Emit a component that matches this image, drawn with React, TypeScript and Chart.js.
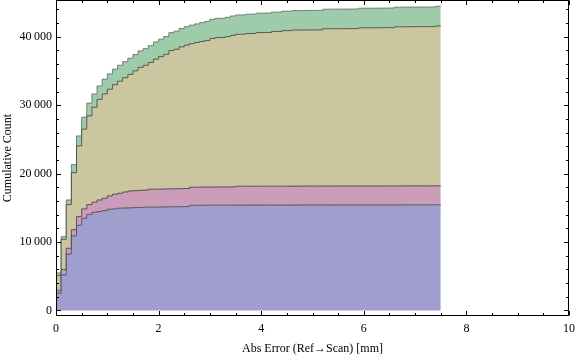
import React, { useEffect, useRef } from "react";
import { Chart, registerables } from "chart.js";

Chart.register(...registerables);

// Cumulative counts per 0.1 mm bin (bin k starts at k * BIN_WIDTH mm)
const BIN_WIDTH = 0.1;
const seriesNames = ["Group 1", "Group 2", "Group 3", "Group 4"];

const seriesBlue = [
  2550, 5200, 8250, 10900, 12450, 13480, 14050, 14350, 14450, 14600,
  14800, 14850, 14950, 14980, 15000, 15030, 15060, 15090, 15100, 15110,
  15120, 15140, 15150, 15160, 15170, 15180, 15370, 15375, 15380, 15385,
  15390, 15390, 15395, 15395, 15400, 15400, 15400, 15400, 15400, 15400,
  15410, 15410, 15410, 15410, 15410, 15410, 15410, 15410, 15420, 15420,
  15420, 15420, 15420, 15420, 15420, 15420, 15420, 15420, 15430, 15430,
  15430, 15430, 15430, 15430, 15430, 15430, 15430, 15430, 15440, 15440,
  15440, 15440, 15440, 15440, 15450,
];

const seriesPink = [
  400, 770, 840, 910, 1270, 1360, 1420, 1470, 1700, 1800,
  1940, 2140, 2180, 2340, 2470, 2475, 2500, 2505, 2620, 2620,
  2622, 2625, 2630, 2632, 2635, 2638, 2640, 2645, 2650, 2650,
  2650, 2653, 2656, 2656, 2657, 2760, 2760, 2760, 2760, 2760,
  2760, 2760, 2760, 2760, 2760, 2765, 2765, 2765, 2765, 2765,
  2765, 2765, 2765, 2765, 2765, 2768, 2768, 2768, 2768, 2768,
  2768, 2768, 2768, 2768, 2768, 2770, 2770, 2770, 2770, 2770,
  2770, 2770, 2770, 2770, 2770,
];

const seriesTan = [
  2150, 4430, 6380, 8340, 10330, 11660, 12970, 13890, 14710, 15250,
  15600, 16010, 16380, 16700, 17040, 17525, 17980, 18245, 18520, 19010,
  19360, 19680, 20210, 20380, 20720, 20960, 20980, 21140, 21290, 21430,
  21710, 21840, 21850, 21980, 22160, 22205, 22215, 22315, 22325, 22455,
  22455, 22465, 22595, 22605, 22725, 22730, 22810, 22815, 22815, 22818,
  22820, 22822, 22995, 22995, 22998, 23000, 23002, 23004, 23005, 23115,
  23118, 23120, 23122, 23135, 23138, 23140, 23260, 23262, 23264, 23266,
  23268, 23270, 23272, 23274, 23370,
];

const seriesGreen = [
  380, 390, 680, 1160, 1460, 1750, 1850, 1940, 1960, 2150,
  2240, 2260, 2340, 2350, 2360, 2370, 2400, 2430, 2470, 2510,
  2550, 2590, 2620, 2650, 2680, 2710, 2710, 2730, 2760, 2790,
  2810, 2815, 2818, 2820, 2822, 2825, 2825, 2825, 2825, 2835,
  2835, 2835, 2835, 2835, 2845, 2845, 2845, 2845, 2850, 2850,
  2850, 2850, 2850, 2860, 2860, 2860, 2860, 2860, 2860, 2865,
  2865, 2865, 2865, 2865, 2865, 2870, 2870, 2870, 2870, 2870,
  2870, 2870, 2870, 2870, 2880,
];

const xTickValues = [0, 2, 4, 6, 8, 10];
const xTickLabels = ["0", "2", "4", "6", "8", "10"];
const yTickValues = [0, 10000, 20000, 30000, 40000];
const yTickLabels = ["0", "10\u2009000", "20\u2009000", "30\u2009000", "40\u2009000"];
const X_MIN = 0;
const X_MAX = 10;
const Y_MIN = -810;
const Y_MAX = 45380;
const X_MINOR_STEP = 0.5;
const Y_MINOR_STEP = 2000;

const fillColors = ["#A09ECC", "#CC9DB9", "#CBC6A0", "#9ECBAA"];
const lineColors = [
  "rgba(70,70,80,0.85)",
  "rgba(70,60,70,0.85)",
  "rgba(60,70,60,0.85)",
  "rgba(100,110,105,0.85)",
];

const toPoints = (values: number[]) => {
  const pts = values.map((v, i) => ({ x: i * BIN_WIDTH, y: v }));
  pts.push({ x: values.length * BIN_WIDTH, y: values[values.length - 1] });
  return pts;
};

const framePlugin = {
  id: "mmaFrame",
  afterDraw(chart: any) {
    const { ctx, chartArea, scales } = chart;
    const xs = scales.x;
    const ys = scales.y;
    const L = Math.round(chartArea.left) + 0.5;
    const R = Math.round(chartArea.right) - 0.5;
    const T = Math.round(chartArea.top) + 0.5;
    const B = Math.round(chartArea.bottom) - 0.5;
    ctx.save();
    ctx.strokeStyle = "#000";
    ctx.lineWidth = 1;
    ctx.strokeRect(L, T, R - L, B - T);
    ctx.beginPath();
    const nx = Math.round((X_MAX - X_MIN) / X_MINOR_STEP);
    for (let i = 0; i <= nx; i++) {
      const v = X_MIN + i * X_MINOR_STEP;
      const major = xTickValues.includes(v);
      const len = major ? 4.5 : 2.5;
      const px = Math.round(xs.getPixelForValue(v)) + 0.5;
      ctx.moveTo(px, B);
      ctx.lineTo(px, B - len);
      ctx.moveTo(px, T);
      ctx.lineTo(px, T + len);
    }
    const ny = Math.floor(Y_MAX / Y_MINOR_STEP);
    for (let i = 0; i <= ny; i++) {
      const v = i * Y_MINOR_STEP;
      const major = yTickValues.includes(v);
      const len = major ? 4.5 : 2.5;
      const py = Math.round(ys.getPixelForValue(v)) + 0.5;
      ctx.moveTo(L, py);
      ctx.lineTo(L + len, py);
      ctx.moveTo(R, py);
      ctx.lineTo(R - len, py);
    }
    ctx.stroke();
    ctx.restore();
  },
};

export default function App() {
  const ref = useRef<HTMLCanvasElement>(null);

  useEffect(() => {
    document.body.style.margin = "0";
    const canvas = ref.current;
    if (!canvas) return;
    Chart.defaults.font.family = '"Liberation Serif", "Times New Roman", serif';
    Chart.defaults.font.size = 12;
    Chart.defaults.color = "#000";

    const allSeries = [seriesBlue, seriesPink, seriesTan, seriesGreen];
    const chart = new Chart(canvas, {
      type: "line",
      data: {
        datasets: allSeries.map((s, i) => ({
          label: seriesNames[i],
          data: toPoints(s),
          stepped: "before" as const,
          fill: i === 0 ? "origin" : "-1",
          backgroundColor: fillColors[i],
          borderColor: lineColors[i],
          borderWidth: 1,
          pointRadius: 0,
          tension: 0,
        })),
      },
      options: {
        animation: false,
        responsive: false,
        devicePixelRatio: 1,
        layout: { padding: { top: 0, right: 7, bottom: 0, left: 0 } },
        plugins: {
          legend: { display: false },
          tooltip: { enabled: false },
        },
        scales: {
          x: {
            type: "linear",
            min: X_MIN,
            max: X_MAX,
            grid: { display: false, drawTicks: false },
            border: { display: false },
            afterBuildTicks: (scale: any) => {
              scale.ticks = xTickValues.map((v) => ({ value: v }));
            },
            afterFit: (scale: any) => {
              scale.height = 41;
              scale.paddingLeft = 0;
              scale.paddingRight = 0;
            },
            ticks: {
              padding: 6,
              maxRotation: 0,
              autoSkip: false,
              callback: (value: any) => {
                const idx = xTickValues.indexOf(Number(value));
                return idx >= 0 ? xTickLabels[idx] : "";
              },
            },
            title: {
              display: true,
              text: "Abs Error (Ref\u2192Scan) [mm]",
              padding: { top: 0, bottom: 1 },
              font: { size: 12 },
            },
          },
          y: {
            type: "linear",
            stacked: true,
            min: Y_MIN,
            max: Y_MAX,
            grid: { display: false, drawTicks: false },
            border: { display: false },
            afterBuildTicks: (scale: any) => {
              scale.ticks = yTickValues.map((v) => ({ value: v }));
            },
            afterFit: (scale: any) => {
              scale.width = 56;
              scale.paddingTop = 0;
              scale.paddingBottom = 0;
            },
            ticks: {
              padding: 4,
              autoSkip: false,
              callback: (value: any) => {
                const idx = yTickValues.indexOf(Number(value));
                return idx >= 0 ? yTickLabels[idx] : "";
              },
            },
            title: {
              display: true,
              text: "Cumulative Count",
              padding: { top: 1, bottom: 0 },
              font: { size: 12 },
            },
          },
        },
      },
      plugins: [framePlugin],
    });
    return () => chart.destroy();
  }, []);

  return (
    <canvas
      ref={ref}
      width={576}
      height={357}
      style={{ display: "block", width: 576, height: 357 }}
    />
  );
}
